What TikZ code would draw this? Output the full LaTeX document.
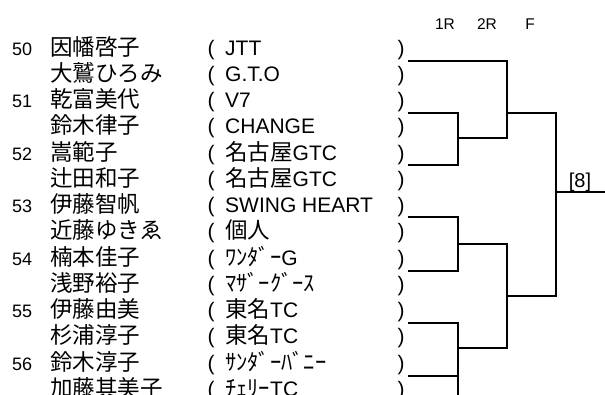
\documentclass[tikz,border=0pt]{standalone}
\usepackage{fontspec}
\setmainfont{Liberation Sans}
\newfontfamily\jp{Noto Sans CJK JP}
\begin{document}
\begin{tikzpicture}[x=1pt,y=-1pt,
  num/.style={anchor=base west,inner sep=0pt,font=\fontsize{18}{18}\selectfont},
  nm/.style={anchor=base west,inner sep=0pt,font=\fontsize{22.5}{22.5}\jp},
  tm/.style={anchor=base west,inner sep=0pt,font=\fontsize{21}{21}\selectfont},
  par/.style={anchor=base,inner sep=0pt,font=\fontsize{21}{21}\selectfont},
  hdr/.style={anchor=base,inner sep=0pt,font=\fontsize{15.5}{15.5}\selectfont},
  res/.style={anchor=base,inner sep=0pt,font=\fontsize{20}{20}\selectfont},
  ln/.style={line width=1.7pt,line cap=rect}]
\useasboundingbox (0,0) rectangle (605,394);
\clip (0,0) rectangle (605,394);
% headers
\node[hdr] (h1) at (445,29) {1R};
\node[hdr] (h2) at (487,29) {2R};
\node[hdr] (h3) at (530,29) {F};
% rows
\foreach \i/\n/\name/\team in {
 0/50/因幡啓子/JTT,
 1//大鷲ひろみ/G.T.O,
 2/51/乾富美代/V7,
 3//鈴木律子/CHANGE,
 4/52/嵩範子/{{\jp\fontsize{22.5}{22.5}\selectfont 名古屋}GTC},
 5//辻田和子/{{\jp\fontsize{22.5}{22.5}\selectfont 名古屋}GTC},
 6/53/伊藤智帆/SWING HEART,
 7//近藤ゆきゑ/{{\jp\fontsize{22.5}{22.5}\selectfont 個人}},
 8/54/楠本佳子/{{\jp\fontsize{22.5}{22.5}\selectfont ﾜﾝﾀﾞｰ}G},
 9//浅野裕子/{{\jp\fontsize{22.5}{22.5}\selectfont ﾏｻﾞｰｸﾞｰｽ}},
 10/55/伊藤由美/{{\jp\fontsize{22.5}{22.5}\selectfont 東名}TC},
 11//杉浦淳子/{{\jp\fontsize{22.5}{22.5}\selectfont 東名}TC},
 12/56/鈴木淳子/{{\jp\fontsize{22.5}{22.5}\selectfont ｻﾝﾀﾞｰﾊﾞﾆｰ}},
 13//加藤其美子/{{\jp\fontsize{22.5}{22.5}\selectfont ﾁｪﾘｰ}TC}} {
  \pgfmathsetmacro{\yb}{55+26.25*\i}
  \node[num] (n\i) at (12,\yb) {\n};
  \node[nm] (p\i) at (50,\yb) {\name};
  \node[par] (l\i) at (211,\yb) {(};
  \node[tm] (t\i) at (225,\yb) {\team};
  \node[par] (r\i) at (401,\yb) {)};
}
% bracket coordinates
\coordinate (a0) at (409,61);
\coordinate (a1) at (409,113);
\coordinate (a2) at (409,165);
\coordinate (a3) at (409,217);
\coordinate (a4) at (409,271);
\coordinate (a5) at (409,323);
\coordinate (a6) at (409,376);
\coordinate (w) at (605,192);
\node[res] (final) at (580,187) {[8]};
% first round
\draw[ln] (a1) -| (458,165) -- (a2);
\draw[ln] (458,138) -- (507,138);
\draw[ln] (a3) -| (458,271) -- (a4);
\draw[ln] (458,244) -- (507,244);
\draw[ln] (a5) -| (458,394);
\draw[ln] (458,376) -- (a6);
\draw[ln] (458,348) -- (507,348);
% second round
\draw[ln] (a0) -| (507,138);
\draw[ln] (507,113) -- (556,113);
\draw[ln] (507,244) -- (507,348);
\draw[ln] (507,296) -- (556,296);
% final
\draw[ln] (556,113) -- (556,296);
\draw[ln] (556,192) -- (w);
\end{tikzpicture}
\end{document}
